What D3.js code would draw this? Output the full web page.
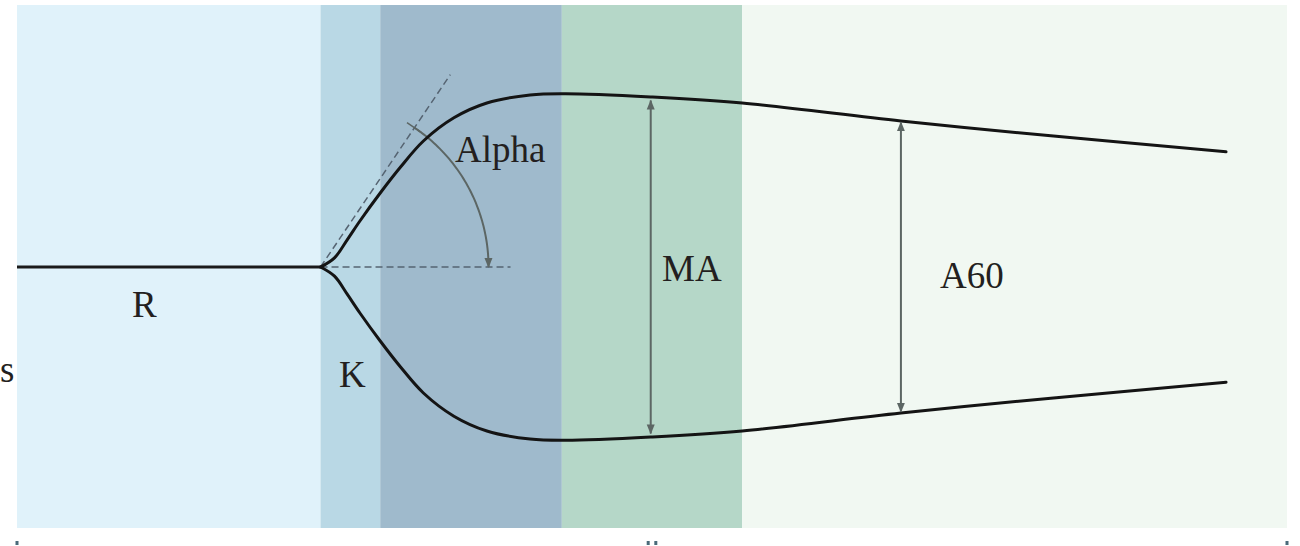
<!DOCTYPE html>
<html>
<head>
<meta charset="utf-8">
<script src="https://cdn.jsdelivr.net/npm/d3@7"></script>
<style>
  body { margin: 0; background: #ffffff; }
  svg { display: block; }
</style>
</head>
<body>
<script>
// phases of the trace (time units, 0..100)
var zoneNames  = ["R", "K", "Alpha", "MA", "Lysis"];
var zoneStart  = [0, 23.9, 28.6, 42.9, 57.1];
var zoneEnd    = [23.9, 28.6, 42.9, 57.1, 100];
var zoneColors = ["#e0f2fa", "#b9d8e5", "#9fbacc", "#b5d7c8", "#f1f8f2"];

// baseline before clot formation
var baseTime = [0, 23.9];

// upper half of the trace: time -> amplitude (lower half is the mirror)
var traceTime = [23.9, 25.0, 26.0, 27.0, 28.6, 30.2, 32.0, 34.4, 37.0, 40.4, 43.2, 49.9, 57.1, 69.6, 81.4, 95.2];
var traceAmp  = [0, 2.3, 6.8, 11.5, 18.5, 25.0, 31.5, 37.3, 41.0, 43.0, 43.3, 42.5, 41.0, 36.5, 32.8, 28.8];

// measurement markers
var maTime = 49.9, maAmp = 41.6;
var a60Time = 69.6, a60Amp = 36.2;
var alphaDeg = 56;

// bottom tick marks
var tickTimes = [0, 49.7, 50.3, 100];

var width = 1300, height = 546;
var serif = "'Liberation Serif', 'Times New Roman', serif";

var svg = d3.select("body")
  .append("svg")
  .attr("width", width)
  .attr("height", height);

var x = d3.scaleLinear().domain([0, 100]).range([17, 1287]);
var y = d3.scaleLinear().domain([-50, 50]).range([467, 67]);

var defs = svg.append("defs");
defs.append("marker")
  .attr("id", "head")
  .attr("viewBox", "0 0 10 10")
  .attr("refX", 9).attr("refY", 5)
  .attr("markerWidth", 5).attr("markerHeight", 6)
  .attr("markerUnits", "strokeWidth")
  .attr("orient", "auto-start-reverse")
  .append("path")
  .attr("d", "M0,1 L10,5 L0,9 Z")
  .attr("fill", "#5c6664");

// zone backgrounds
svg.selectAll("rect.zone")
  .data(zoneNames)
  .enter()
  .append("rect")
  .attr("class", "zone")
  .attr("x", function(d, i) { return x(zoneStart[i]); })
  .attr("y", 5)
  .attr("width", function(d, i) { return x(zoneEnd[i]) - x(zoneStart[i]); })
  .attr("height", 523)
  .attr("fill", function(d, i) { return zoneColors[i]; });

// little ticks under the panel
svg.selectAll("rect.tick")
  .data(tickTimes)
  .enter()
  .append("rect")
  .attr("class", "tick")
  .attr("x", function(d) { return x(d) - 1.5; })
  .attr("y", 541)
  .attr("width", 3)
  .attr("height", 4)
  .attr("fill", "#4a6b7a");

var t0 = traceTime[0];

// dashed reference lines for alpha
var rad = alphaDeg * Math.PI / 180;
svg.append("line")
  .attr("x1", x(t0)).attr("y1", y(0))
  .attr("x2", x(t0) + 232 * Math.cos(rad)).attr("y2", y(0) - 232 * Math.sin(rad))
  .attr("stroke", "#566472").attr("stroke-width", 1.5)
  .attr("stroke-dasharray", "7,4");

svg.append("line")
  .attr("x1", x(t0)).attr("y1", y(0))
  .attr("x2", x(t0) + 190).attr("y2", y(0))
  .attr("stroke", "#566472").attr("stroke-width", 1.5)
  .attr("stroke-dasharray", "7,4");

// alpha arc
var r = 168;
var arcPts = d3.range(0, 61).map(function(k) {
  var a = rad * (1 - k / 60);
  return [x(t0) + r * Math.cos(a), y(0) - r * Math.sin(a)];
});
svg.append("path")
  .attr("d", d3.line()(arcPts))
  .attr("fill", "none")
  .attr("stroke", "#5c6664")
  .attr("stroke-width", 2)
  .attr("marker-end", "url(#head)");

svg.append("line")
  .attr("x1", arcPts[0][0] + 9 * Math.sin(rad)).attr("y1", arcPts[0][1] + 9 * Math.cos(rad))
  .attr("x2", arcPts[0][0] - 9 * Math.sin(rad)).attr("y2", arcPts[0][1] - 9 * Math.cos(rad))
  .attr("stroke", "#5c6664").attr("stroke-width", 1.5);

// baseline
svg.append("path")
  .attr("d", d3.line()(baseTime.map(function(t) { return [x(t), y(0)]; })))
  .attr("stroke", "#1a1a1a")
  .attr("stroke-width", 3)
  .attr("fill", "none");

// trace halves
var traceLine = d3.line()
  .x(function(d) { return x(d[0]); })
  .y(function(d) { return y(d[1]); })
  .curve(d3.curveCatmullRom.alpha(0.5));

[1, -1].forEach(function(sign) {
  var pts = traceTime.map(function(t, i) { return [t, sign * traceAmp[i]]; });
  svg.append("path")
    .attr("d", traceLine(pts))
    .attr("stroke", "#141414")
    .attr("stroke-width", 3)
    .attr("stroke-linecap", "round")
    .attr("fill", "none");
});

// MA and A60 double arrows
[[maTime, maAmp], [a60Time, a60Amp]].forEach(function(m) {
  svg.append("line")
    .attr("x1", x(m[0])).attr("y1", y(m[1]))
    .attr("x2", x(m[0])).attr("y2", y(-m[1]))
    .attr("stroke", "#5c6664")
    .attr("stroke-width", 2)
    .attr("marker-start", "url(#head)")
    .attr("marker-end", "url(#head)");
});

// labels
var labels = [
  {text: "R", x: 132, y: 317},
  {text: "K", x: 339, y: 387},
  {text: "Alpha", x: 455, y: 162},
  {text: "MA", x: 662, y: 281},
  {text: "A60", x: 940, y: 288},
  {text: "s", x: 0, y: 382}
];
svg.selectAll("text.label")
  .data(labels)
  .enter()
  .append("text")
  .attr("class", "label")
  .attr("x", function(d) { return d.x; })
  .attr("y", function(d) { return d.y; })
  .attr("font-family", serif)
  .attr("font-size", 37)
  .attr("fill", "#231f20")
  .text(function(d) { return d.text; });
</script>
</body>
</html>
